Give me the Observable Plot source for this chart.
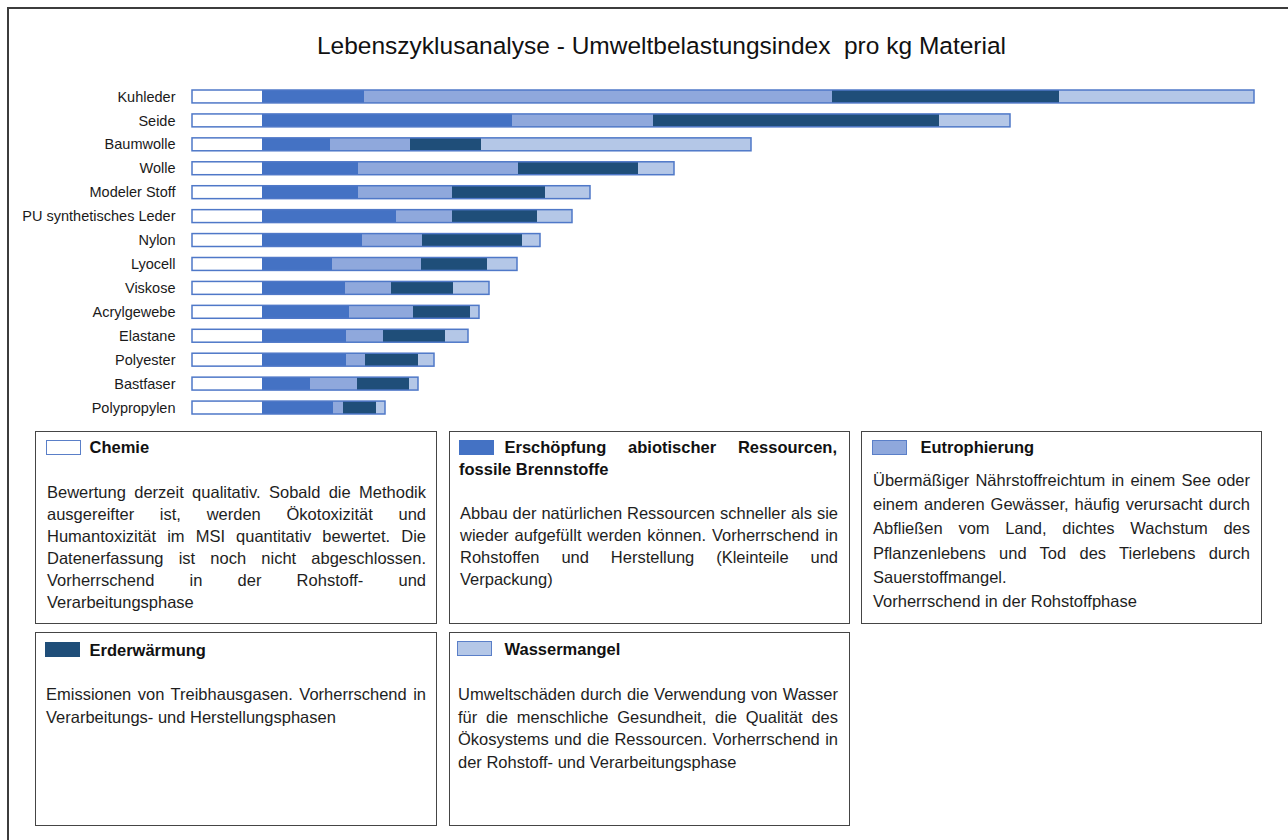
<!DOCTYPE html>
<html>
<head>
<meta charset="utf-8">
<script src="https://cdn.jsdelivr.net/npm/d3@7"></script>
<script src="https://cdn.jsdelivr.net/npm/@observablehq/plot@0.6"></script>
<style>
  body { margin: 0; background: #fff; font-family: "Liberation Sans", Arial, sans-serif; color: #1e1e1e; }
  #page { position: relative; width: 1288px; height: 840px; overflow: hidden; background: #fff; }
  #frame { position: absolute; left: 7px; top: 7px; width: 1320px; height: 900px; border-top: 2px solid #3c3c3c; border-left: 2px solid #3c3c3c; z-index: 5; pointer-events: none; }
  #title { position: absolute; left: 0; width: 1323px; top: 31px; text-align: center; font-size: 24.5px; line-height: 30px; white-space: pre; color: #111; }
  #chart { position: absolute; left: 0; top: 64px; }
  .box { position: absolute; border: 1.5px solid #454545; box-sizing: border-box; background: #fff; }
  .head, .body { position: absolute; font-size: 16.5px; }
  .head { font-weight: bold; line-height: 22px; color: #111; }
  .ln { text-align: justify; text-align-last: justify; }
  .ln.last { text-align: left; text-align-last: left; }
  .sw { position: absolute; width: 35px; height: 15px; box-sizing: border-box; }
</style>
</head>
<body>
<div id="page">
  <div id="frame"></div>
  <div id="title">Lebenszyklusanalyse - Umweltbelastungsindex  pro kg Material</div>
  <div id="chart"></div>
  <div id="legend"></div>
</div>
<script>
// ---- data ----
const materials = ["Kuhleder", "Seide", "Baumwolle", "Wolle", "Modeler Stoff", "PU synthetisches Leder",
  "Nylon", "Lyocell", "Viskose", "Acrylgewebe", "Elastane", "Polyester", "Bastfaser", "Polypropylen"];
const categories = ["Chemie", "Erschöpfung abiotischer Ressourcen, fossile Brennstoffe",
  "Eutrophierung", "Erderwärmung", "Wassermangel"];
const chemie        = [7, 7, 7, 7, 7, 7, 7, 7, 7, 7, 7, 7, 7, 7];
const abiotisch     = [10.2, 25.0, 6.8, 9.6, 9.6, 13.4, 10.0, 7.0, 8.3, 8.7, 8.4, 8.4, 4.8, 7.1];
const eutrophierung = [46.8, 14.1, 8.0, 16.0, 9.4, 5.6, 6.0, 8.9, 4.6, 6.4, 3.7, 1.9, 4.7, 1.0];
const erderwaermung = [22.7, 28.6, 7.1, 12.0, 9.3, 8.5, 10.0, 6.6, 6.2, 5.7, 6.2, 5.3, 5.2, 3.3];
const wassermangel  = [19.5, 7.1, 27.0, 3.6, 4.5, 3.5, 1.8, 3.0, 3.6, 0.9, 2.3, 1.6, 0.9, 0.9];
const colors = ["#ffffff", "#4472C4", "#8FA8DC", "#1F4E79", "#B4C7E7"];

const legendTitles = [["Chemie"], ["Erschöpfung abiotischer Ressourcen,", "fossile Brennstoffe"],
  ["Eutrophierung"], ["Erderwärmung"], ["Wassermangel"]];
const legendTexts = [
  [["Bewertung derzeit qualitativ. Sobald die Methodik", "ausgereifter ist, werden Ökotoxizität und",
    "Humantoxizität im MSI quantitativ bewertet. Die", "Datenerfassung ist noch nicht abgeschlossen.",
    "Vorherrschend in der Rohstoff- und", "Verarbeitungsphase"]],
  [["Abbau der natürlichen Ressourcen schneller als sie", "wieder aufgefüllt werden können. Vorherrschend in",
    "Rohstoffen und Herstellung (Kleinteile und", "Verpackung)"]],
  [["Übermäßiger Nährstoffreichtum in einem See oder", "einem anderen Gewässer, häufig verursacht durch",
    "Abfließen vom Land, dichtes Wachstum des", "Pflanzenlebens und Tod des Tierlebens durch",
    "Sauerstoffmangel."], ["Vorherrschend in der Rohstoffphase"]],
  [["Emissionen von Treibhausgasen. Vorherrschend in", "Verarbeitungs- und Herstellungsphasen"]],
  [["Umweltschäden durch die Verwendung von Wasser", "für die menschliche Gesundheit, die Qualität des",
    "Ökosystems und die Ressourcen. Vorherrschend in", "der Rohstoff- und Verarbeitungsphase"]]
];

// ---- chart ----
const series = [chemie, abiotisch, eutrophierung, erderwaermung, wassermangel];
const rows = materials.flatMap((m, i) => categories.map((c, j) => ({material: m, category: c, value: series[j][i]})));
const totals = materials.map((m, i) => ({material: m, total: d3.sum(series, s => s[i])}));

const chart = Plot.plot({
  width: 1288, height: 361,
  marginLeft: 192, marginRight: 0, marginTop: 15, marginBottom: 0,
  x: {domain: [0, 109.6], axis: null},
  y: {domain: materials, padding: 0.46, round: false, label: null, tickSize: 0, tickPadding: 17},
  color: {domain: categories, range: colors},
  style: {background: "transparent", fontFamily: "'Liberation Sans', Arial, sans-serif", fontSize: "14.5px", color: "#1a1a1a", overflow: "visible"},
  marks: [
    Plot.barX(rows, {x: "value", y: "material", fill: "category"}),
    Plot.barX(totals, {x1: 0, x2: "total", y: "material", fill: "none", stroke: "#4f78c8", strokeWidth: 1.5})
  ]
});
document.getElementById("chart").appendChild(chart);

// ---- legend boxes ----
const boxes = [
  {l: 35, t: 431, w: 402, h: 193, pl: 10, pr: 10, ht: 4, bt: 49, lh: 22, sx: 10, st: 8, ind: 43.5, swStroke: "#5a7fc8"},
  {l: 449, t: 431, w: 401, h: 193, pl: 9, pr: 11, ht: 4, bt: 70, lh: 22, sx: 9, st: 8, ind: 45.5, swStroke: null},
  {l: 861, t: 431, w: 401, h: 193, pl: 10, pr: 11, ht: 4, bt: 36, lh: 24.2, sx: 10, st: 8, ind: 48.5, swStroke: "#5a7fc8"},
  {l: 35, t: 632, w: 402, h: 194, pl: 9, pr: 10, ht: 6, bt: 50, lh: 22.6, sx: 9, st: 9, ind: 44.5, swStroke: null},
  {l: 449, t: 632, w: 401, h: 194, pl: 7, pr: 11, ht: 5, bt: 50, lh: 22.6, sx: 7, st: 8, ind: 47.5, swStroke: "#5a7fc8"}
];
const legend = document.getElementById("legend");
boxes.forEach((b, i) => {
  const box = document.createElement("div");
  box.className = "box";
  Object.assign(box.style, {left: b.l + "px", top: b.t + "px", width: b.w + "px", height: b.h + "px"});
  const cw = b.w - b.pl - b.pr - 3;
  const sw = document.createElement("div");
  sw.className = "sw";
  Object.assign(sw.style, {left: b.sx + "px", top: b.st + "px", background: colors[i],
    border: "1.5px solid " + (b.swStroke || colors[i])});
  box.appendChild(sw);
  const head = document.createElement("div");
  head.className = "head";
  Object.assign(head.style, {left: b.pl + "px", top: b.ht + "px", width: cw + "px"});
  legendTitles[i].forEach((t, k) => {
    const ln = document.createElement("div");
    ln.className = "ln" + (k === legendTitles[i].length - 1 ? " last" : "");
    if (k === 0) ln.style.textIndent = b.ind + "px";
    ln.textContent = t;
    head.appendChild(ln);
  });
  box.appendChild(head);
  const body = document.createElement("div");
  body.className = "body";
  Object.assign(body.style, {left: (b.pl + 1) + "px", top: b.bt + "px", width: cw + "px", lineHeight: b.lh + "px"});
  legendTexts[i].forEach(par => {
    par.forEach((t, k) => {
      const ln = document.createElement("div");
      ln.className = "ln" + (k === par.length - 1 ? " last" : "");
      ln.textContent = t;
      body.appendChild(ln);
    });
  });
  box.appendChild(body);
  legend.appendChild(box);
});
</script>
</body>
</html>
